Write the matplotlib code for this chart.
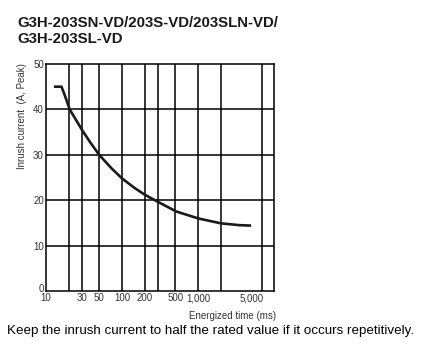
# Inrush current vs energized time (G3H-203SN-VD family)

import matplotlib
matplotlib.use("Agg")
import matplotlib.pyplot as plt
from matplotlib.ticker import FixedLocator, NullLocator
from matplotlib.transforms import ScaledTranslation

plt.rcParams["font.family"] = ["Liberation Sans", "DejaVu Sans"]

# curve
time_ms = [12.7, 16, 17.5, 20.5, 30, 38, 50, 73, 100, 149, 200, 300, 520, 1000, 2000, 3500, 5000]
current_a = [45, 45, 43.3, 40, 35.4, 32.8, 30.0, 27.0, 24.8, 22.6, 21.2, 19.6, 17.5, 16.0, 14.9, 14.5, 14.4]

# grid and tick positions
x_grid = [20, 30, 50, 100, 200, 300, 500, 1000, 2000, 7000]
x_ticks = [10, 30, 50, 100, 200, 500, 1000, 5000]
x_labels = ["10", "30", "50", "100", "200", "500", "1,000", "5,000"]
y_ticks = [0, 10, 20, 30, 40, 50]

fig = plt.figure(figsize=(4.29, 3.54), dpi=100)
ax = fig.add_axes([0.1072, 0.178, 0.5315, 0.6412])

ax.plot(time_ms, current_a, color="#1a1a1a", lw=1.9, solid_capstyle="butt",
        solid_joinstyle="round")

ax.set_xscale("log")
ax.set_xlim(10, 10000)
ax.set_ylim(0, 50)

for gx in x_grid:
    ax.axvline(gx, color="black", lw=1.1, zorder=0)
for gy in y_ticks[1:-1]:
    ax.axhline(gy, color="black", lw=1.1, zorder=0)

ax.xaxis.set_major_locator(FixedLocator(x_ticks))
ax.xaxis.set_minor_locator(NullLocator())
ax.set_xticklabels(x_labels)
ax.set_yticks(y_ticks)
ax.tick_params(length=0, labelsize=7, colors="#333333", pad=1.5)
for s in ax.spines.values():
    s.set_linewidth(1.1)

# nudge the "0" label up so it clears the "10" below it
zero = ax.get_yticklabels()[0]
zero.set_transform(zero.get_transform() + ScaledTranslation(0, 2.5 / 100, fig.dpi_scale_trans))

fig.text(0.052, 0.672, "Inrush current  (A, Peak)", rotation=90,
         ha="center", va="center", fontsize=7, color="#333333")
fig.text(0.543, 0.108, "Energized time (ms)", ha="center", va="center",
         fontsize=7, color="#333333")

fig.text(0.04, 0.925, "G3H-203SN-VD/203S-VD/203SLN-VD/", fontsize=10.8,
         fontweight="bold", color="#1a1a1a", ha="left", va="baseline")
fig.text(0.04, 0.878, "G3H-203SL-VD", fontsize=10.8, fontweight="bold",
         color="#1a1a1a", ha="left", va="baseline")

fig.text(0.016, 0.057, "Keep the inrush current to half the rated value if it occurs repetitively.",
         fontsize=9.65, color="black", ha="left", va="baseline")

fig.savefig("out.png", dpi=100)
